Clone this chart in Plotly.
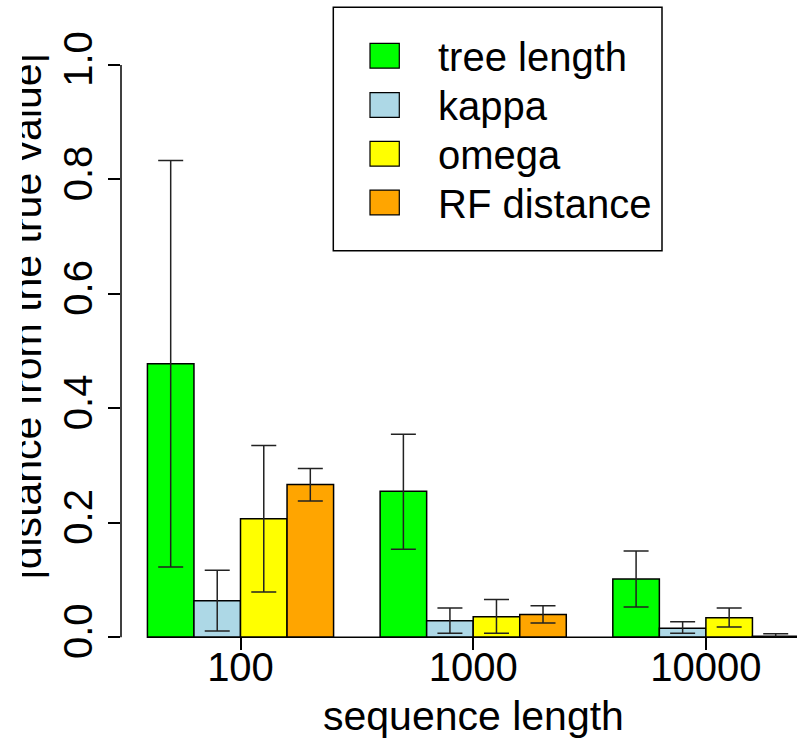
import plotly.graph_objects as go

# ---------------- data ----------------
categories = ["100", "1000", "10000"]
series_names = ["tree length", "kappa", "omega", "RF distance"]
series_colors = ["#00FF00", "#ADD8E6", "#FFFF00", "#FFA500"]

tree_length = [0.478, 0.255, 0.102]
kappa = [0.064, 0.029, 0.016]
omega = [0.207, 0.036, 0.034]
rf_distance = [0.267, 0.040, 0.002]

tree_length_upper = [0.833, 0.355, 0.151]
tree_length_lower = [0.123, 0.154, 0.053]
kappa_upper = [0.117, 0.051, 0.027]
kappa_lower = [0.011, 0.007, 0.007]
omega_upper = [0.335, 0.066, 0.051]
omega_lower = [0.079, 0.007, 0.018]
rf_upper = [0.295, 0.055, 0.006]
rf_lower = [0.238, 0.025, 0.000]

y_tick_values = [0.0, 0.2, 0.4, 0.6, 0.8, 1.0]
x_title = "sequence length"
y_title = "|distance from the true value|"
y_title_center = 0.55

means = [tree_length, kappa, omega, rf_distance]
uppers = [tree_length_upper, kappa_upper, omega_upper, rf_upper]
lowers = [tree_length_lower, kappa_lower, omega_lower, rf_lower]

# ---------------- geometry (pixels) ----------------
W, H = 797, 738
ML, MR, MT, MB = 22, 0, 0, 78
PW, PH = W - ML - MR, H - MT - MB
AX_X = 121.0          # y axis line
Y0_PX, Y1_PX = 637.3, 65.0
PPU = Y0_PX - Y1_PX
CAT0_PX, PPC = 240.5, 232.7
FONT = "Liberation Sans, Arial, Helvetica, sans-serif"


def px_x(px):
    return (px - ML) / PW


def px_y(py):
    return (MT + PH - py) / PH


y_range = [-(MT + PH - Y0_PX) / PPU, (Y0_PX - MT) / PPU]
x_range = [(AX_X - CAT0_PX) / PPC, (W - MR - CAT0_PX) / PPC]

fig = go.Figure()
for name, col, m, up, lo in zip(series_names, series_colors, means, uppers, lowers):
    fig.add_trace(go.Bar(
        x=categories, y=m, name=name,
        marker=dict(color=col, line=dict(color="black", width=1.5)),
        error_y=dict(type="data", symmetric=False,
                     array=[u - v for u, v in zip(up, m)],
                     arrayminus=[v - l for v, l in zip(m, lo)],
                     color="#222222", thickness=1.5, width=12.5),
        showlegend=False,
    ))

# invisible trace on secondary axis so its tick label (the y title) shows
fig.add_trace(go.Scatter(x=[categories[0]], y=[y_title_center], yaxis="y2",
                         mode="markers", marker=dict(opacity=0), showlegend=False,
                         hoverinfo="skip"))

shapes = []
# y axis line 0..1
shapes.append(dict(type="line", xref="paper", yref="y", x0=px_x(AX_X), x1=px_x(AX_X),
                   y0=y_tick_values[0], y1=y_tick_values[-1],
                   line=dict(color="black", width=1.5)))
# baseline along bars
shapes.append(dict(type="line", xref="x", yref="y", x0=-0.4, x1=len(categories) - 0.6,
                   y0=0, y1=0, line=dict(color="black", width=1.5)))
# cover clipping the y title on the left
shapes.append(dict(type="rect", xref="paper", yref="paper", x0=px_x(-10), x1=px_x(22),
                   y0=-0.2, y1=1.2, fillcolor="white", line=dict(width=0), layer="above"))
# legend box
shapes.append(dict(type="rect", xref="paper", yref="paper", x0=px_x(333.3), x1=px_x(662),
                   y0=px_y(250.7), y1=px_y(7.3), fillcolor="white",
                   line=dict(color="black", width=1.5), layer="above"))
annotations = []
leg_centers = [55.8, 105.0, 153.8, 202.5]
for name, col, cy in zip(series_names, series_colors, leg_centers):
    shapes.append(dict(type="rect", xref="paper", yref="paper", x0=px_x(370), x1=px_x(399.3),
                       y0=px_y(cy + 12.4), y1=px_y(cy - 12.4), fillcolor=col,
                       line=dict(color="black", width=1.2), layer="above"))
    annotations.append(dict(xref="paper", yref="paper", x=px_x(435.5), y=px_y(cy + 1),
                            xanchor="left", yanchor="middle", showarrow=False, text=name,
                            font=dict(family=FONT, size=40, color="black")))

annotations.append(dict(xref="paper", yref="paper", x=px_x(473), y=px_y(716),
                        xanchor="center", yanchor="middle", showarrow=False, text=x_title,
                        font=dict(family=FONT, size=41, color="black")))

fig.update_layout(
    width=W, height=H,
    margin=dict(l=ML, r=MR, t=MT, b=MB, pad=0),
    paper_bgcolor="white", plot_bgcolor="white",
    barmode="group", bargap=0.2, bargroupgap=0,
    font=dict(family=FONT, color="black"),
    shapes=shapes, annotations=annotations,
    xaxis=dict(type="category", domain=[px_x(AX_X), 1], range=x_range,
               anchor="free", position=px_y(Y0_PX),
               showline=False, showgrid=False, zeroline=False,
               ticks="outside", ticklen=12, tickwidth=1.5, tickcolor="black",
               ticklabelstandoff=-17,
               tickfont=dict(family=FONT, size=40, color="black"), automargin=False),
    yaxis=dict(range=y_range, anchor="x", showline=False, showgrid=False, zeroline=False,
               tickvals=y_tick_values, tickformat=".1f", tickangle=-90,
               ticks="outside", ticklen=12, tickwidth=1.5, tickcolor="black",
               tickfont=dict(family=FONT, size=40, color="black"), automargin=False),
    yaxis2=dict(range=y_range, overlaying="y", anchor="free", position=px_x(49),
                side="left", showline=False, showgrid=False, zeroline=False,
                tickvals=[y_title_center], ticktext=[y_title], tickangle=-90, ticks="",
                tickfont=dict(family=FONT, size=41, color="black"), automargin=False),
)

fig.write_html("out.html")
